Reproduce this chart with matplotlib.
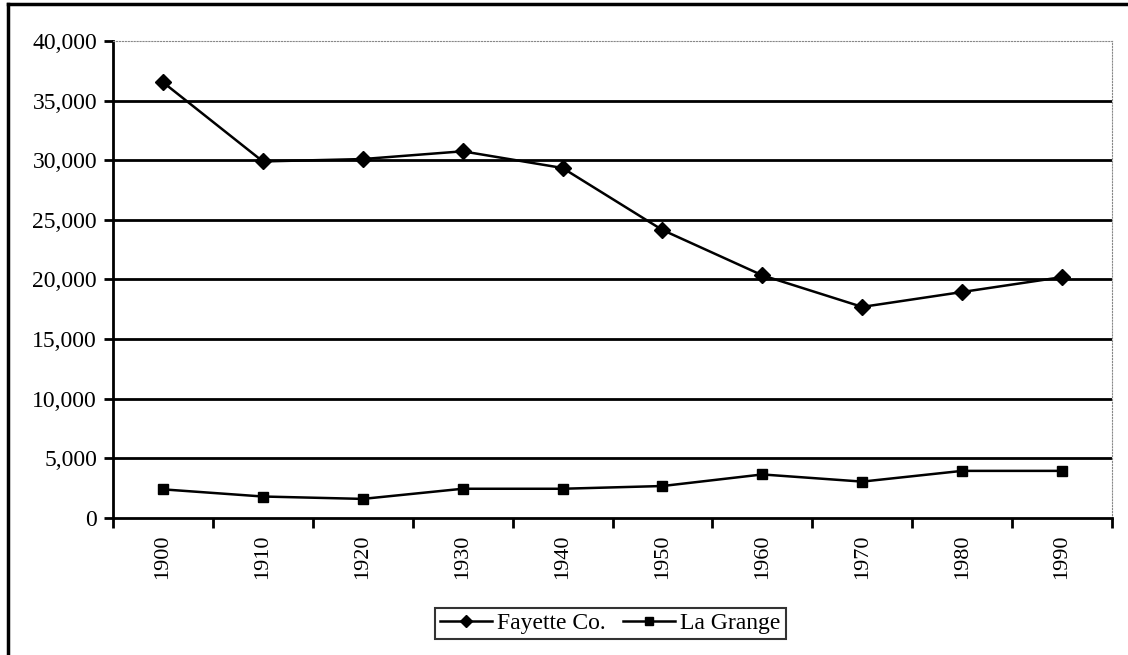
import matplotlib.pyplot as plt
from matplotlib.lines import Line2D
from matplotlib.ticker import FuncFormatter

years = ["1900", "1910", "1920", "1930", "1940", "1950", "1960", "1970", "1980", "1990"]
fayette = [36540, 29900, 30100, 30750, 29350, 24150, 20350, 17700, 18950, 20200]
la_grange = [2400, 1800, 1600, 2450, 2450, 2680, 3650, 3050, 3950, 3950]

plt.rcParams['font.family'] = ['Liberation Serif', 'DejaVu Serif']

fig = plt.figure(figsize=(11.28, 6.55), dpi=100)
ax = fig.add_axes([0.1002, 0.2092, 0.8856, 0.7282])

x = list(range(len(years)))
ax.plot(x, fayette, color="black", linewidth=1.8, marker="D", markersize=8,
        label="Fayette Co.")
ax.plot(x, la_grange, color="black", linewidth=1.8, marker="s", markersize=7.5,
        label="La Grange")

ax.set_xlim(-0.5, len(years) - 0.5)
ax.set_ylim(0, 40000)
ax.set_yticks(range(0, 40001, 5000))
ax.yaxis.set_major_formatter(FuncFormatter(lambda v, p: f"{int(v):,}"))
for yv in range(5000, 40000, 5000):
    ax.axhline(yv, color="black", linewidth=2, zorder=0)

# category labels in the middle, tick marks on the boundaries
ax.set_xticks([i - 0.5 for i in range(len(years) + 1)])
ax.set_xticklabels([])
ax.set_xticks(x, minor=True)
ax.set_xticklabels(years, minor=True, rotation=90, fontsize=16)
ax.tick_params(axis="x", which="major", direction="out", length=7, width=2)
ax.tick_params(axis="x", which="minor", length=0, pad=12)
ax.tick_params(axis="y", direction="out", length=6.5, width=2, labelsize=17, pad=5)

ax.spines["left"].set_linewidth(2)
ax.spines["bottom"].set_linewidth(2)
ax.spines["top"].set_color("#888888")
ax.spines["top"].set_linestyle(":")
ax.spines["right"].set_color("#888888")
ax.spines["right"].set_linestyle(":")

leg = fig.legend(loc="center", bbox_to_anchor=(0.541, 0.048), ncol=2, fontsize=17,
                 frameon=True, fancybox=False, edgecolor="black", handlelength=2.2,
                 handletextpad=0.25, columnspacing=0.7, borderpad=0.2,
                 borderaxespad=0, markerscale=0.8)
leg.get_frame().set_linewidth(1.5)

# outer frame (left and top edges visible in the scan)
fig.add_artist(Line2D([0.0075, 0.0075], [0, 0.994], color="black", linewidth=2.5))
fig.add_artist(Line2D([0.0075, 1], [0.994, 0.994], color="black", linewidth=2.5))

fig.savefig("out.png", dpi=100)
